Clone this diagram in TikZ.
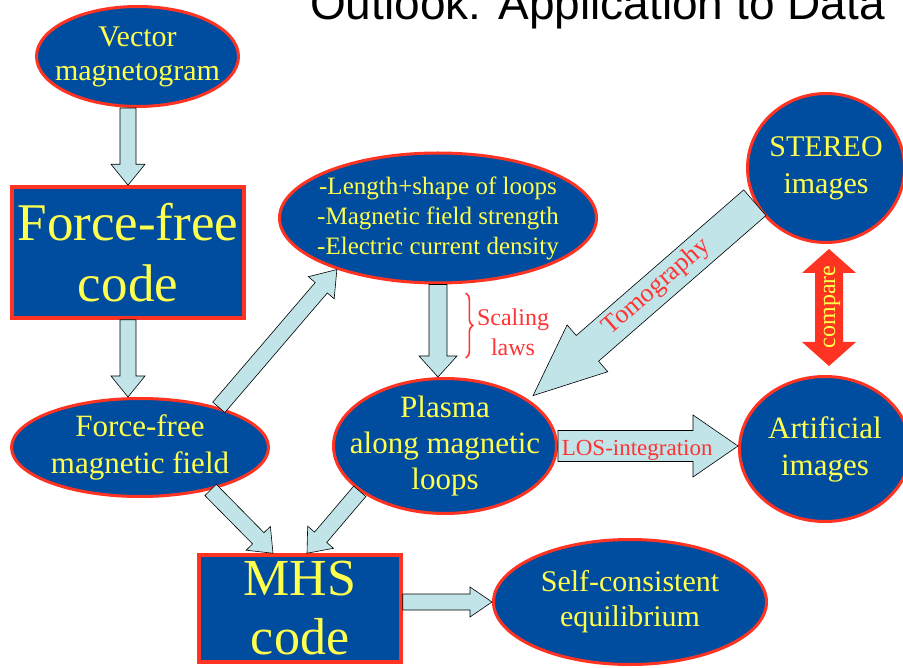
\documentclass[tikz,border=0pt]{standalone}
\usepackage{fontspec}
\setmainfont{Liberation Serif}
\newfontfamily\titlefont{Liberation Sans}
\usepackage{xcolor}
\usepackage{tikz}
\usetikzlibrary{shapes.geometric, calc, decorations.pathreplacing}

\definecolor{slideblue}{RGB}{0,77,160}
\definecolor{slidered}{RGB}{255,51,34}
\definecolor{slideyellow}{RGB}{255,255,77}
\definecolor{arrowcyan}{RGB}{193,228,232}
\definecolor{labelred}{RGB}{255,51,51}

\tikzstyle{oval} = [ellipse, draw=slidered, line width=3pt, fill=slideblue, text=slideyellow, align=center, inner sep=-25pt]
\tikzstyle{codebox} = [rectangle, draw=slidered, line width=3.5pt, fill=slideblue, text=slideyellow, align=center, inner sep=0pt]
\tikzstyle{redlabel} = [text=labelred, inner sep=0pt, align=center]
% block arrows: {half shaft}{half head}{head length}
\tikzset{
  fat/.style n args={3}{draw=black, line width=0.6pt, fill=arrowcyan, to path={
    ($(\tikztostart)!#1!90:(\tikztotarget)$)
    -- ($(\tikztotarget)!#3!(\tikztostart)!#1!-90:(\tikztostart)$)
    -- ($(\tikztotarget)!#3!(\tikztostart)!#2!-90:(\tikztostart)$)
    -- (\tikztotarget)
    -- ($(\tikztotarget)!#3!(\tikztostart)!#2!90:(\tikztostart)$)
    -- ($(\tikztotarget)!#3!(\tikztostart)!#1!90:(\tikztostart)$)
    -- ($(\tikztostart)!#1!-90:(\tikztotarget)$) -- cycle}},
  fatboth/.style n args={3}{draw=none, fill=slidered, to path={
    (\tikztostart)
    -- ($(\tikztostart)!#3!(\tikztotarget)!#2!-90:(\tikztotarget)$)
    -- ($(\tikztostart)!#3!(\tikztotarget)!#1!-90:(\tikztotarget)$)
    -- ($(\tikztotarget)!#3!(\tikztostart)!#1!90:(\tikztostart)$)
    -- ($(\tikztotarget)!#3!(\tikztostart)!#2!90:(\tikztostart)$)
    -- (\tikztotarget)
    -- ($(\tikztotarget)!#3!(\tikztostart)!#2!-90:(\tikztostart)$)
    -- ($(\tikztotarget)!#3!(\tikztostart)!#1!-90:(\tikztostart)$)
    -- ($(\tikztostart)!#3!(\tikztotarget)!#1!90:(\tikztotarget)$)
    -- ($(\tikztostart)!#3!(\tikztotarget)!#2!90:(\tikztotarget)$) -- cycle}},
  small/.style={fat={8pt}{17pt}{21pt}}
}

\begin{document}
\begin{tikzpicture}[x=1pt, y=-1pt]
    \useasboundingbox (0,0) rectangle (903,668);
    \clip (0,0) rectangle (903,668);

    % Title
    \node (title) [anchor=base west, inner sep=0pt, font=\titlefont\fontsize{46}{46}\selectfont] at (310,20) {Outlook: Application to Data};

    % Nodes
    \node (vec) [oval, minimum width=202, minimum height=100, font=\fontsize{30}{34}\selectfont] at (137.5,56.5) {Vector\\magnetogram};
    \node (ffcode) [codebox, minimum width=232, minimum height=131, font=\fontsize{53}{61}\selectfont] at (128,252.5) {Force-free\\code};
    \node (field) [oval, minimum width=257, minimum height=98, font=\fontsize{31}{37}\selectfont] at (140,447.5) {Force-free\\magnetic field};
    \node (length) [oval, minimum width=317, minimum height=130, font=\fontsize{25}{30}\selectfont] at (438,218) {-Length+shape of loops\\-Magnetic field strength\\-Electric current density};
    \node (plasma) [oval, minimum width=223, minimum height=135, font=\fontsize{31}{36}\selectfont] at (445,446) {Plasma\\along magnetic\\loops};
    \node (stereo) [oval, minimum width=157, minimum height=149, font=\fontsize{30}{37}\selectfont] at (826,168) {STEREO\\images};
    \node (art) [oval, minimum width=171, minimum height=145, font=\fontsize{31}{37}\selectfont] at (825,449) {Artificial\\images};
    \node (mhs) [codebox, minimum width=202, minimum height=107, font=\fontsize{52}{59}\selectfont] at (300,608.5) {MHS\\code};
    \node (self) [oval, minimum width=273, minimum height=125, font=\fontsize{30}{35}\selectfont] at (630,602) {Self-consistent\\equilibrium};

    % Arrows
    \draw [small] (ffcode.north |- vec.south) to (ffcode.north);
    \draw [small] (ffcode.south) to (ffcode.south |- field.north);
    \draw [fat={8pt}{17pt}{24pt}] (field.27) to (length.207);
    \draw [fat={9pt}{19pt}{21pt}] (length.south) to (length.south |- plasma.north);
    \draw [small] (field.-31) to ($(mhs.north)+(-27,0)$);
    \draw [small] (plasma.208) to ($(mhs.north)+(7,0)$);
    \draw [fat={8pt}{15pt}{22pt}] (mhs.east |- self.west) to (self.west);
    \draw [fat={17pt}{31pt}{72pt}] (stereo.206) to ($(plasma.30)+(6,-3)$);
    \draw [fat={15.5pt}{31pt}{45pt}] (plasma.east) to (plasma.east -| art.west);
    \draw [fatboth={14pt}{27pt}{24pt}] ($(stereo.south)+(3,5)$) to ($(art.north)+(4,-9)$);

    % Labels
    \node (scaling) [redlabel, font=\fontsize{24}{30}\selectfont] at (513,332) {Scaling\\laws};
    \draw [labelred, line width=1.6pt, decorate, decoration={brace, amplitude=7pt}] ($(scaling.west)+(-11,-39)$) -- ($(scaling.west)+(-11,26)$);
    \node (tomo) [redlabel, rotate=41, font=\fontsize{26}{26}\selectfont] at ($(stereo.206)!0.43!(plasma.30)$) {Tomography};
    \node (los) [redlabel, font=\fontsize{23}{23}\selectfont, yshift=-3pt] at ($(plasma.east)!0.44!(art.west)$) {LOS-integration};
    \node (cmp) [text=slideyellow, inner sep=0pt, rotate=90, font=\fontsize{24}{24}\selectfont] at (832,307) {compare};

\end{tikzpicture}
\end{document}
